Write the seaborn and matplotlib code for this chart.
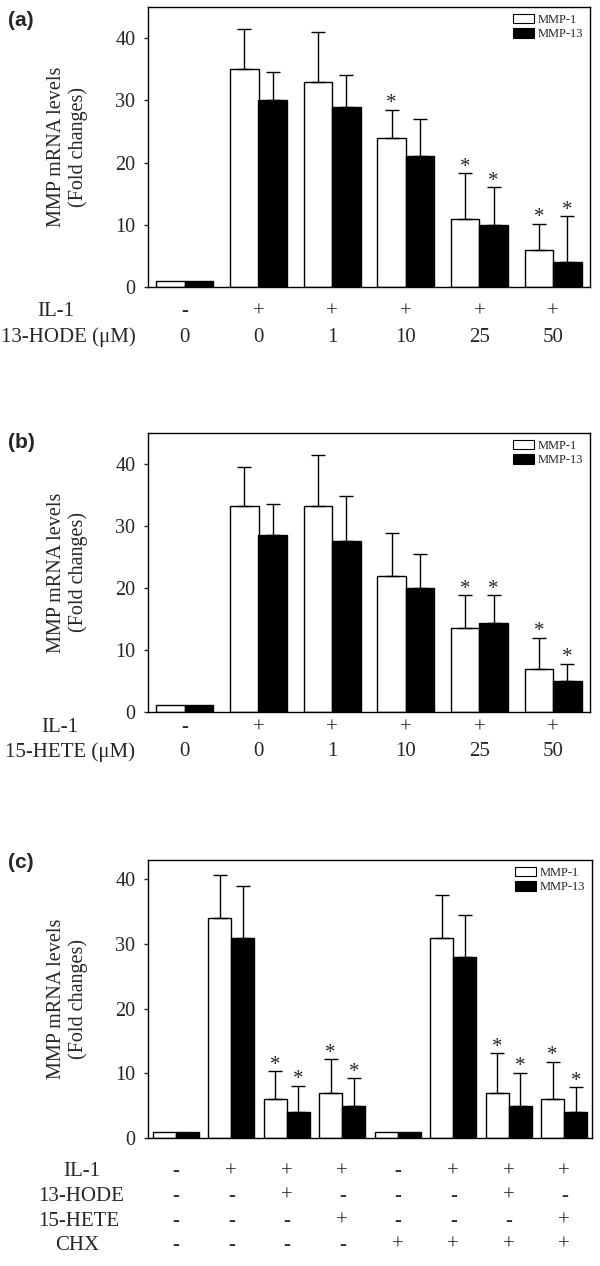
import matplotlib

matplotlib.use("Agg")

import matplotlib.pyplot as plt
import numpy as np
import pandas as pd
import seaborn as sns
from matplotlib.patches import Patch

# ── data ────────────────────────────────────────────────────────────────
GENES = ["MMP-1", "MMP-13"]

# panel (a): 13-HODE dose response
a_groups = ["g0", "g1", "g2", "g3", "g4", "g5"]
a_mmp1 = [1, 35, 33, 24, 11, 6]
a_mmp1_err = [1, 41.5, 41, 28.5, 18.3, 10.2]
a_mmp13 = [1, 30, 29, 21, 10, 4]
a_mmp13_err = [1, 34.5, 34, 27, 16, 11.4]
a_star1 = [3, 4, 5]
a_star13 = [4, 5]
a_il1 = ["-", "+", "+", "+", "+", "+"]
a_dose = ["0", "0", "1", "10", "25", "50"]

# panel (b): 15-HETE dose response
b_groups = ["g0", "g1", "g2", "g3", "g4", "g5"]
b_mmp1 = [1.1, 33.3, 33.3, 22, 13.5, 6.9]
b_mmp1_err = [1.1, 39.5, 41.5, 28.8, 18.8, 12]
b_mmp13 = [1.1, 28.5, 27.6, 20, 14.4, 5]
b_mmp13_err = [1.1, 33.5, 34.8, 25.5, 18.8, 7.8]
b_star1 = [4, 5]
b_star13 = [4, 5]
b_il1 = ["-", "+", "+", "+", "+", "+"]
b_dose = ["0", "0", "1", "10", "25", "50"]

# panel (c): cycloheximide
c_groups = ["g0", "g1", "g2", "g3", "g4", "g5", "g6", "g7"]
c_mmp1 = [1, 34, 6, 7, 1, 31, 7, 6]
c_mmp1_err = [1, 40.7, 10.3, 12.2, 1, 37.6, 13.1, 11.8]
c_mmp13 = [1, 31, 4, 5, 1, 28, 5, 4]
c_mmp13_err = [1, 39, 8.1, 9.3, 1, 34.5, 10.1, 7.9]
c_star1 = [2, 3, 6, 7]
c_star13 = [2, 3, 6, 7]
c_il1 = ["-", "+", "+", "+", "-", "+", "+", "+"]
c_hode = ["-", "-", "+", "-", "-", "-", "+", "-"]
c_hete = ["-", "-", "-", "+", "-", "-", "-", "+"]
c_chx = ["-", "-", "-", "-", "+", "+", "+", "+"]

# ── style ───────────────────────────────────────────────────────────────
sns.set_theme(style="ticks")
plt.rcParams["font.family"] = ["Liberation Serif", "DejaVu Serif"]
plt.rcParams["axes.linewidth"] = 1.0
plt.rcParams["ytick.major.size"] = 3
plt.rcParams["ytick.major.width"] = 1.0

FS = 14.5      # ticks / y label
FS_ROW = 15    # treatment rows


def bar_panel(ax, groups, m1, e1, m13, e13, s1, s13, width, ymax):
    df = pd.DataFrame({
        "group": groups * 2,
        "gene": [GENES[0]] * len(groups) + [GENES[1]] * len(groups),
        "value": m1 + m13,
    })
    sns.barplot(data=df, x="group", y="value", hue="gene", order=groups,
                hue_order=GENES, palette={"MMP-1": "white", "MMP-13": "black"},
                edgecolor="black", linewidth=1.0, width=width, gap=0,
                errorbar=None, legend=False, ax=ax, saturation=1)

    for cont, vals, tops, stars in zip(ax.containers[:2], (m1, m13), (e1, e13), (s1, s13)):
        for i, (bar, v, t) in enumerate(zip(cont, vals, tops)):
            x = bar.get_x() + bar.get_width() / 2
            if t > v:
                ax.errorbar([x], [v], yerr=[[0], [t - v]], fmt="none",
                            ecolor="black", elinewidth=1.0, capsize=5, capthick=1.0)
            if i in stars:
                ax.text(x, t + 0.2, "*", ha="center", va="baseline", fontsize=15)

    ax.set_xlim(-0.5, len(groups) - 0.5)
    ax.set_ylim(0, ymax)
    ax.set_yticks([0, 10, 20, 30, 40])
    ax.tick_params(axis="y", labelsize=FS, pad=6)
    ax.tick_params(axis="x", bottom=False, labelbottom=False)
    ax.set_xlabel("")
    ax.set_ylabel("MMP mRNA levels\n(Fold changes)", fontsize=FS, linespacing=1.15)
    for sp in ax.spines.values():
        sp.set_visible(True)
        sp.set_color("black")

    handles = [Patch(facecolor="white", edgecolor="black", linewidth=0.8),
               Patch(facecolor="black", edgecolor="black", linewidth=0.8)]
    ax.legend(handles, GENES, loc="upper right", frameon=False, fontsize=9,
              handlelength=1.7, handleheight=0.75, labelspacing=0.2,
              handletextpad=0.3, borderaxespad=0.25, borderpad=0.3)


def row(ax, label, lx, y, values):
    ax.text(lx, y, label, transform=ax.transAxes, ha="center", va="center", fontsize=FS_ROW)
    tr = ax.get_xaxis_transform()
    for i, s in enumerate(values):
        ax.text(i, y, s, transform=tr, ha="center", va="center", fontsize=FS_ROW)


fig = plt.figure(figsize=(6, 12.66), dpi=100)
H = 1266.0

ax_a = fig.add_axes([148 / 600, 1 - 287 / H, 442 / 600, 280 / H])
ax_b = fig.add_axes([148 / 600, 1 - 712 / H, 442 / 600, 279 / H])
ax_c = fig.add_axes([148 / 600, 1 - 1138 / H, 444 / 600, 278 / H])

bar_panel(ax_a, a_groups, a_mmp1, a_mmp1_err, a_mmp13, a_mmp13_err,
          a_star1, a_star13, 0.77, 45)
bar_panel(ax_b, b_groups, b_mmp1, b_mmp1_err, b_mmp13, b_mmp13_err,
          b_star1, b_star13, 0.77, 45)
bar_panel(ax_c, c_groups, c_mmp1, c_mmp1_err, c_mmp13, c_mmp13_err,
          c_star1, c_star13, 0.83, 43)

for ax in (ax_a, ax_b, ax_c):
    ax.yaxis.set_label_coords(-0.135, 0.5)

row(ax_a, "IL-1", -0.208, -0.089, a_il1)
row(ax_a, "13-HODE (\u03bcM)", -0.181, -0.179, a_dose)
row(ax_b, "IL-1", -0.199, -0.057, b_il1)
row(ax_b, "15-HETE (\u03bcM)", -0.176, -0.143, b_dose)
row(ax_c, "IL-1", -0.149, -0.122, c_il1)
row(ax_c, "13-HODE", -0.151, -0.209, c_hode)
row(ax_c, "15-HETE", -0.155, -0.299, c_hete)
row(ax_c, "CHX", -0.160, -0.385, c_chx)

for lab, y in (("(a)", 20), ("(b)", 443), ("(c)", 863)):
    fig.text(8 / 600, 1 - y / H, lab, ha="left", va="center", fontsize=15,
             fontweight="bold", family=["Liberation Sans", "DejaVu Sans"])

fig.savefig("out.png", dpi=100)
plt.close(fig)
